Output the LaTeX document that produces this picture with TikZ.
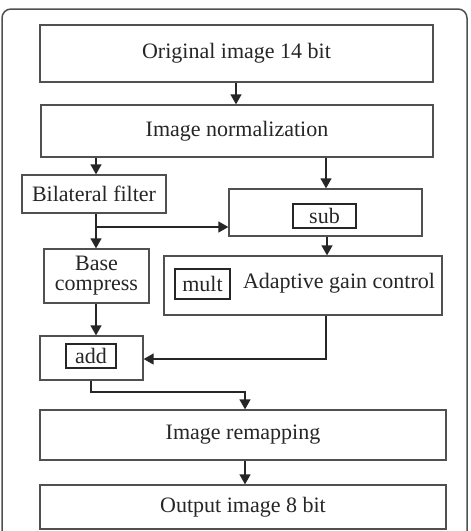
\documentclass[tikz,border=0pt]{standalone}
\usepackage{fontspec}
\setmainfont{Liberation Serif}
\usetikzlibrary{arrows.meta,calc}
\definecolor{ink}{HTML}{262626}
\definecolor{edge}{HTML}{505050}
\begin{document}
\begin{tikzpicture}[x=1pt,y=-1pt,
  box/.style={draw=edge,line width=1.3pt,rectangle,inner sep=0pt,text=ink,
    font=\fontsize{22}{20}\selectfont,align=center},
  ibox/.style={draw=ink,line width=1.6pt,rectangle,inner sep=0pt,text=ink,
    font=\fontsize{22}{20}\selectfont},
  lbl/.style={inner sep=0pt,text=ink,font=\fontsize{22}{20}\selectfont},
  arr/.style={draw=ink,line width=1.4pt,-{Triangle[length=10pt,width=11pt]}},
  ln/.style={draw=ink,line width=1.4pt}]
\clip (0,0) rectangle (471,531);
\fill[white] (0,0) rectangle (471,531);
\draw[edge,line width=1.5pt,rounded corners=9pt] (2,9) rectangle (467,570);

\node[box,minimum width=393pt,minimum height=57pt] (orig) at (236.5,53.5) {Original image 14 bit};
\node[box,minimum width=392pt,minimum height=52pt] (norm) at (237,131) {Image normalization};
\node[box,minimum width=144pt,minimum height=38pt] (bil) at (94,194) {Bilateral filter};
\node[box,minimum width=193pt,minimum height=47pt] (sub) at (325.5,212.5) {};
\node[ibox,minimum width=63pt,minimum height=24pt] (subin) at (324.5,216) {sub};
\node[box,minimum width=105pt,minimum height=54pt] (base) at (96.5,276) {Base\\compress};
\node[box,minimum width=278pt,minimum height=59pt] (agc) at (303,285.5) {};
\node[ibox,minimum width=55pt,minimum height=30pt] (mult) at (202.5,284) {mult};
\node[lbl] (agct) at (339,283) {Adaptive gain control};
\node[box,minimum width=103pt,minimum height=44pt] (add) at (91.5,358) {};
\node[ibox,minimum width=50pt,minimum height=24pt] (addin) at (91,356) {add};
\node[box,minimum width=406pt,minimum height=50pt] (remap) at (243,435) {Image remapping};
\node[box,minimum width=406pt,minimum height=44pt] (out) at (243,507) {Output image 8 bit};

\coordinate (a1) at (236,0);
\draw[arr] (a1 |- orig.south) -- (a1 |- norm.north);
\coordinate (a2) at (96,0);
\draw[arr] (a2 |- norm.south) -- (a2 |- bil.north);
\coordinate (a3) at (326,0);
\draw[arr] (a3 |- norm.south) -- (a3 |- sub.north);
\coordinate (j) at (96,227);
\draw[ln] (j |- bil.south) -- (j);
\draw[arr] (j) -- (j |- base.north);
\draw[arr] (j) -- (j -| sub.west);
\coordinate (a5) at (327,0);
\draw[arr] (a5 |- sub.south) -- (a5 |- agc.north);
\draw[arr] (j |- base.south) -- (j |- add.north);
\coordinate (k) at (326,359);
\draw[arr] (k |- agc.south) -- (k) -- (k -| add.east);
\coordinate (m1) at (91,392);
\coordinate (m2) at (245,392);
\draw[arr] (m1 |- add.south) -- (m1) -- (m2) -- (m2 |- remap.north);
\draw[arr] (m2 |- remap.south) -- (m2 |- out.north);
\end{tikzpicture}
\end{document}
